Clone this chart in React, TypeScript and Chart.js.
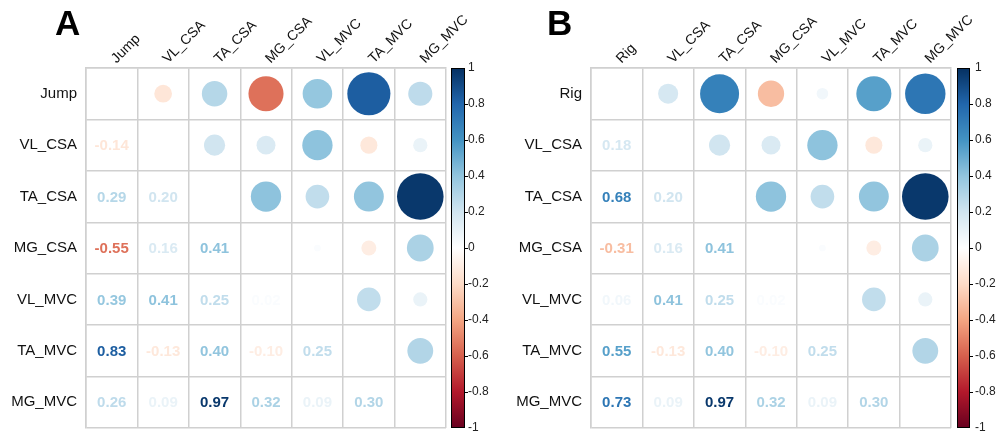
import React, { useEffect, useRef } from 'react';
import { Chart, registerables } from 'chart.js';

Chart.register(...registerables);

// ---- data ----
const varsA = ['Jump', 'VL_CSA', 'TA_CSA', 'MG_CSA', 'VL_MVC', 'TA_MVC', 'MG_MVC'];
const varsB = ['Rig', 'VL_CSA', 'TA_CSA', 'MG_CSA', 'VL_MVC', 'TA_MVC', 'MG_MVC'];
// correlations of the first variable with the six muscle variables
const jumpCorr = [-0.14, 0.29, -0.55, 0.39, 0.83, 0.26];
const rigCorr = [0.18, 0.68, -0.31, 0.06, 0.55, 0.73];
// upper-triangle rows among the muscle variables
const vlCsaCorr = [0.2, 0.16, 0.41, -0.13, 0.09];
const taCsaCorr = [0.41, 0.25, 0.4, 0.97];
const mgCsaCorr = [0.02, -0.1, 0.32];
const vlMvcCorr = [0.25, 0.09];
const taMvcCorr = [0.3];
const colorbarMin = -1;
const colorbarMax = 1;
const colorbarStep = 0.2;
const rdBu = ['#67001F', '#B2182B', '#D6604D', '#F4A582', '#FDDBC7', '#FFFFFF', '#D1E5F0', '#92C5DE', '#4393C3', '#2166AC', '#053061'];

const FONT = '"Liberation Sans", Arial, sans-serif';

function hexToRgb(h: string) {
  const n = parseInt(h.slice(1), 16);
  return [(n >> 16) & 255, (n >> 8) & 255, n & 255];
}

function corrColor(v: number) {
  const t = ((v + 1) / 2) * (rdBu.length - 1);
  const i = Math.max(0, Math.min(rdBu.length - 2, Math.floor(t)));
  const f = t - i;
  const a = hexToRgb(rdBu[i]);
  const b = hexToRgb(rdBu[i + 1]);
  const c = a.map((x, k) => Math.round(x + (b[k] - x) * f));
  return `rgb(${c[0]},${c[1]},${c[2]})`;
}

function buildMatrix(first: number[]) {
  const rows = [first, vlCsaCorr, taCsaCorr, mgCsaCorr, vlMvcCorr, taMvcCorr];
  const n = rows.length + 1;
  const m: number[][] = Array.from({ length: n }, (_, i) => Array.from({ length: n }, (_, j) => (i === j ? 1 : 0)));
  rows.forEach((r, i) => r.forEach((v, k) => {
    const j = i + 1 + k;
    m[i][j] = v;
    m[j][i] = v;
  }));
  return m;
}

type PanelProps = {
  vars: string[];
  first: number[];
  letter: string;
  letterX: number;
  yWidth: number;
  cbWidth: number;
  barOffset: number;
  barWidth: number;
  cbPad: number;
};

function Panel(props: PanelProps) {
  const ref = useRef<HTMLCanvasElement | null>(null);
  useEffect(() => {
    const { vars, first, letter, letterX, yWidth, cbWidth, barOffset, barWidth, cbPad } = props;
    const m = buildMatrix(first);
    const upper: any[] = [];
    const lower: any[] = [];
    for (let i = 0; i < vars.length; i++) {
      for (let j = 0; j < vars.length; j++) {
        if (j > i) upper.push({ x: vars[j], y: vars[i], v: m[i][j] });
        if (j < i) lower.push({ x: vars[j], y: vars[i], v: m[i][j] });
      }
    }

    const drawPlugin = {
      id: 'corrExtras',
      afterDatasetsDraw(chart: any) {
        const { ctx, scales } = chart;
        const xs = scales.x;
        const ys = scales.y;
        ctx.save();
        ctx.font = `bold 15px ${FONT}`;
        ctx.textAlign = 'center';
        ctx.textBaseline = 'middle';
        lower.forEach((p) => {
          ctx.fillStyle = corrColor(p.v);
          ctx.fillText(p.v.toFixed(2), xs.getPixelForValue(vars.indexOf(p.x)), ys.getPixelForValue(vars.indexOf(p.y)) + 1);
        });
        ctx.restore();
      },
      afterDraw(chart: any) {
        const { ctx, scales, chartArea } = chart;
        const cb = scales.cb;
        const top = cb.getPixelForValue(colorbarMax);
        const bottom = cb.getPixelForValue(colorbarMin);
        const x0 = chartArea.right + barOffset;
        ctx.save();
        const grad = ctx.createLinearGradient(0, bottom, 0, top);
        rdBu.forEach((c, i) => grad.addColorStop(i / (rdBu.length - 1), c));
        ctx.fillStyle = grad;
        ctx.fillRect(x0, top, barWidth, bottom - top);
        ctx.strokeStyle = '#000';
        ctx.lineWidth = 1;
        ctx.strokeRect(x0 + 0.5, top + 0.5, barWidth - 1, bottom - top - 1);
        ctx.beginPath();
        cb.ticks.forEach((t: any) => {
          if (Math.abs(t.value) < 0.999) {
            const py = Math.round(cb.getPixelForValue(t.value)) + 0.5;
            ctx.moveTo(x0 + barWidth, py);
            ctx.lineTo(x0 + barWidth + 3, py);
          }
        });
        ctx.stroke();
        ctx.fillStyle = '#000';
        ctx.font = `bold 35px ${FONT}`;
        ctx.textAlign = 'left';
        ctx.textBaseline = 'alphabetic';
        ctx.fillText(letter, letterX, 35);
        ctx.restore();
      },
    };

    const zeroPad = (s: any) => {
      s.paddingLeft = 0;
      s.paddingRight = 0;
      s.paddingTop = 0;
      s.paddingBottom = 0;
    };

    const radiusFn = (c: any) => {
      const raw = c.raw;
      if (!raw) return 0;
      const xs = c.chart.scales.x;
      const cell = Math.abs(xs.getPixelForValue(1) - xs.getPixelForValue(0));
      return 0.46 * cell * Math.sqrt(Math.abs(raw.v));
    };

    const chart = new Chart(ref.current as HTMLCanvasElement, {
      type: 'scatter',
      data: {
        datasets: [
          {
            data: upper,
            pointRadius: radiusFn,
            pointHoverRadius: radiusFn,
            pointBackgroundColor: (c: any) => (c.raw ? corrColor(c.raw.v) : '#fff'),
            pointBorderWidth: 0,
          } as any,
        ],
      },
      options: {
        animation: false,
        responsive: false,
        events: [],
        layout: { padding: { left: 0, right: 0, top: 0, bottom: 6 } },
        plugins: { legend: { display: false }, tooltip: { enabled: false } },
        scales: {
          x: {
            type: 'category',
            labels: vars,
            position: 'top',
            offset: true,
            grid: { offset: true, color: '#d0d0d0', lineWidth: 1.5, drawTicks: false },
            border: { display: true, color: '#d0d0d0', width: 1.5 },
            ticks: {
              autoSkip: false,
              minRotation: 45,
              maxRotation: 45,
              padding: 1,
              labelOffset: 14,
              color: '#111',
              font: { family: FONT, size: 14 },
            },
            afterFit: (s: any) => {
              s.height = 68;
              zeroPad(s);
            },
          },
          y: {
            type: 'category',
            labels: vars,
            position: 'left',
            offset: true,
            grid: { offset: true, color: '#d0d0d0', lineWidth: 1.5, drawTicks: false },
            border: { display: true, color: '#d0d0d0', width: 1.5 },
            ticks: {
              autoSkip: false,
              padding: 9,
              color: '#111',
              font: { family: FONT, size: 15 },
            },
            afterFit: (s: any) => {
              s.width = yWidth;
              zeroPad(s);
            },
          },
          cb: {
            type: 'linear',
            axis: 'y',
            position: 'right',
            min: colorbarMin,
            max: colorbarMax,
            grid: { display: false, drawTicks: false },
            border: { display: false },
            ticks: {
              stepSize: colorbarStep,
              padding: cbPad,
              color: '#222',
              font: { family: FONT, size: 12 },
              callback: (v: any) => String(Math.round(Number(v) * 10) / 10),
            },
            afterFit: (s: any) => {
              s.width = cbWidth;
              zeroPad(s);
            },
          },
        },
      } as any,
      plugins: [drawPlugin],
    });
    return () => chart.destroy();
  }, []);
  return <canvas ref={ref} width={499} height={434} style={{ display: 'block', width: 499, height: 434 }} />;
}

export default function App() {
  return (
    <div style={{ position: 'absolute', left: 0, top: 0, width: 998, height: 434, display: 'flex', background: '#fff' }}>
      <Panel vars={varsA} first={jumpCorr} letter="A" letterX={55} yWidth={86} cbWidth={53} barOffset={5} barWidth={14} cbPad={22} />
      <Panel vars={varsB} first={rigCorr} letter="B" letterX={48} yWidth={92} cbWidth={47} barOffset={6} barWidth={13} cbPad={24} />
    </div>
  );
}
